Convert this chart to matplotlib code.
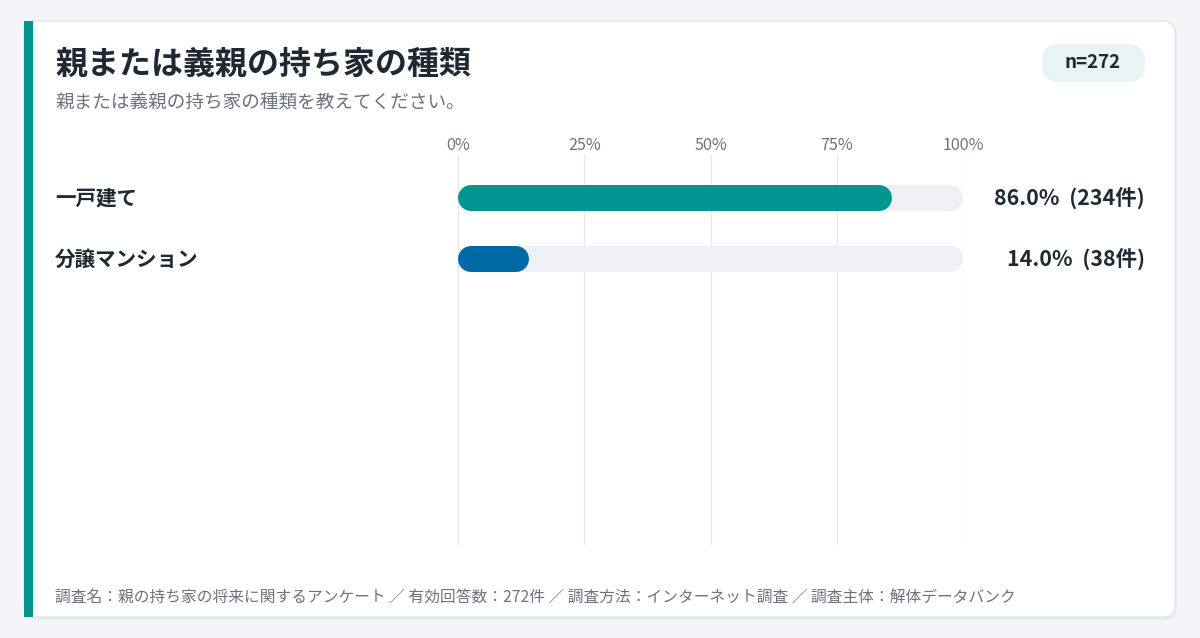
import matplotlib
matplotlib.use("Agg")
import matplotlib.pyplot as plt
from matplotlib.patches import FancyBboxPatch, Rectangle

plt.rcParams['font.family'] = ['Noto Sans CJK JP', 'DejaVu Sans']

# data
categories = ['一戸建て', '分譲マンション']
percents = [86.0, 14.0]
counts = [234, 38]
bar_colors = ['#00968f', '#0068a5']
ticks = [0, 25, 50, 75, 100]
tick_labels = ['0%', '25%', '50%', '75%', '100%']
n_total = 272

title = '親または義親の持ち家の種類'
subtitle = '親または義親の持ち家の種類を教えてください。'
footer = ('調査名：親の持ち家の将来に関するアンケート ／ 有効回答数：272件 ／ '
          '調査方法：インターネット調査 ／ 調査主体：解体データバンク')

W, H = 1200, 638
fig = plt.figure(figsize=(W / 100, H / 100), dpi=100)
fig.patch.set_facecolor('#f4f5f9')

# background axes in pixel units
bg = fig.add_axes([0, 0, 1, 1])
bg.set_xlim(0, W)
bg.set_ylim(H, 0)
bg.axis('off')

# card with soft shadow
bg.add_patch(FancyBboxPatch((26, 24), 1151, 596, boxstyle='round,pad=0,rounding_size=12',
                            fc='#e8ebf1', ec='none', zorder=0))
bg.add_patch(FancyBboxPatch((24, 21), 1151, 596, boxstyle='round,pad=0,rounding_size=12',
                            fc='white', ec='#e3e6ec', lw=1, zorder=1))
bg.add_patch(Rectangle((24, 21), 9, 596, fc='#00968f', ec='none', zorder=2))

bg.text(55, 65, title, fontsize=23, fontweight='bold', color='#1f2933', va='center', ha='left')
bg.text(55, 103, subtitle, fontsize=13.4, color='#6b7280', va='center', ha='left')

# n badge
bg.add_patch(FancyBboxPatch((1042, 44), 103, 38, boxstyle='round,pad=0,rounding_size=18',
                            fc='#e8f3f4', ec='none', zorder=2))
bg.text(1093, 63, f'n={n_total}', fontsize=13.5, fontweight='bold', color='#1f2933',
        va='center', ha='center', zorder=3)

bg.text(55, 598, footer, fontsize=11.3, color='#6b7280', va='center', ha='left')

# chart axes: x 458..963 px, y 155..545 px
x0, x1, y_top, y_bot = 458, 963, 155, 545
ax = fig.add_axes([x0 / W, 1 - y_bot / H, (x1 - x0) / W, (y_bot - y_top) / H])
ax.set_xlim(0, 100)
ax.set_ylim(y_bot - y_top, 0)
ax.patch.set_alpha(0)
for s in ax.spines.values():
    s.set_visible(False)
ax.set_yticks([])
ax.set_xticks(ticks)
ax.set_xticklabels(tick_labels, fontsize=11.6, color='#6b7280')
ax.xaxis.tick_top()
ax.tick_params(axis='x', length=0, pad=1)
for t in ticks:
    ax.axvline(t, color='#e5e7eb', lw=1, zorder=0)

px_per_unit = (x1 - x0) / 100
bar_h = 26
lw_pt = bar_h * 0.72
r = (bar_h / 2) / px_per_unit
row_y = [43 + 61 * i for i in range(len(categories))]

for i, (cat, p, c, col) in enumerate(zip(categories, percents, counts, bar_colors)):
    y = row_y[i]
    ax.plot([r, 100 - r], [y, y], color='#eef0f6', lw=lw_pt, solid_capstyle='round', zorder=1)
    ax.plot([r, p - r], [y, y], color=col, lw=lw_pt, solid_capstyle='round', zorder=2)
    bg.text(55, y + y_top, cat, fontsize=14.8, fontweight='bold', color='#1f2933',
            va='center', ha='left')
    bg.text(1145, y + y_top, f'{p:.1f}%  ({c}件)', fontsize=15.4, fontweight='bold',
            color='#1f2933', va='center', ha='right')

fig.savefig('out.png', dpi=100, facecolor=fig.get_facecolor())
